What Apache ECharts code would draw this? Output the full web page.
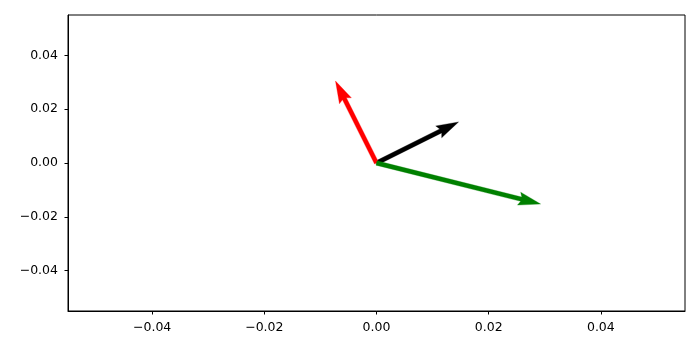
<!DOCTYPE html>
<html>
<head>
<meta charset="utf-8">
<script src="https://cdn.jsdelivr.net/npm/echarts@6/dist/echarts.min.js"></script>
<style>html,body{margin:0;padding:0;background:#fff}#c{width:700px;height:350px}</style>
</head>
<body>
<div id="c"></div>
<script>
// Data: arrow tails (x, y) and vector components (u, v)
const tailX = [0, 0, 0];
const tailY = [0, 0, 0];
const vecU = [2, -1, 4];
const vecV = [1, 2, -1];
const xTicks = [-0.04, -0.02, 0.00, 0.02, 0.04];
const yTicks = [-0.04, -0.02, 0.00, 0.02, 0.04];

// Styles
const arrowColors = ['#000000', '#ff0000', '#008000'];
const pxPerUnitFrac = 0.0665;   // arrow length per data unit, as fraction of plot width
const shaftFrac = 0.0072;       // shaft width as fraction of plot width

const data = tailX.map((x, i) => [x, tailY[i], vecU[i], vecV[i], i]);

function fmt(v) {
  return v.toFixed(2).replace('-', '\u2212').replace(/^\u22120\.00$/, '0.00');
}

const font = 'DejaVu Sans';
const chart = echarts.init(document.getElementById('c'), null, {renderer: 'canvas'});
chart.setOption({
  animation: false,
  grid: {left: 68, top: 15, width: 617, height: 296, show: true, borderColor: '#000', borderWidth: 1, backgroundColor: '#fff'},
  xAxis: {
    type: 'value', min: -0.055, max: 0.055,
    axisLine: {show: true, onZero: false, lineStyle: {color: '#000', width: 1}},
    splitLine: {show: false},
    axisTick: {show: true, length: 3.5, inside: false, customValues: xTicks, lineStyle: {color: '#000'}},
    axisLabel: {customValues: xTicks, formatter: fmt, color: '#000', fontFamily: font, fontSize: 12.5, margin: 10}
  },
  yAxis: {
    type: 'value', min: -0.055, max: 0.055,
    axisLine: {show: true, onZero: false, lineStyle: {color: '#000', width: 1}},
    splitLine: {show: false},
    axisTick: {show: true, length: 3.5, inside: false, customValues: yTicks, lineStyle: {color: '#000'}},
    axisLabel: {customValues: yTicks, formatter: fmt, color: '#000', fontFamily: font, fontSize: 12.5, margin: 10}
  },
  series: [{
    type: 'custom',
    coordinateSystem: 'cartesian2d',
    encode: {x: 0, y: 1},
    clip: true,
    data: data,
    renderItem: function (params, api) {
      const p0 = api.coord([api.value(0), api.value(1)]);
      const u = api.value(2), v = api.value(3);
      const idx = api.value(4);
      const W = params.coordSys.width;
      const s = W * pxPerUnitFrac;
      const dx = u * s, dy = -v * s;
      const L = Math.sqrt(dx * dx + dy * dy);
      const ang = Math.atan2(dy, dx);
      const w = W * shaftFrac;
      const hl = 5 * w, hal = 4.5 * w, hw = 1.5 * w;
      const local = [
        [0, -w / 2], [L - hal, -w / 2], [L - hl, -hw], [L, 0],
        [L - hl, hw], [L - hal, w / 2], [0, w / 2]
      ];
      const c = Math.cos(ang), sn = Math.sin(ang);
      const pts = local.map(([a, b]) => [p0[0] + a * c - b * sn, p0[1] + a * sn + b * c]);
      return {
        type: 'polygon',
        shape: {points: pts},
        style: {fill: arrowColors[idx], stroke: arrowColors[idx], lineWidth: 0.3}
      };
    }
  }]
});
</script>
</body>
</html>
